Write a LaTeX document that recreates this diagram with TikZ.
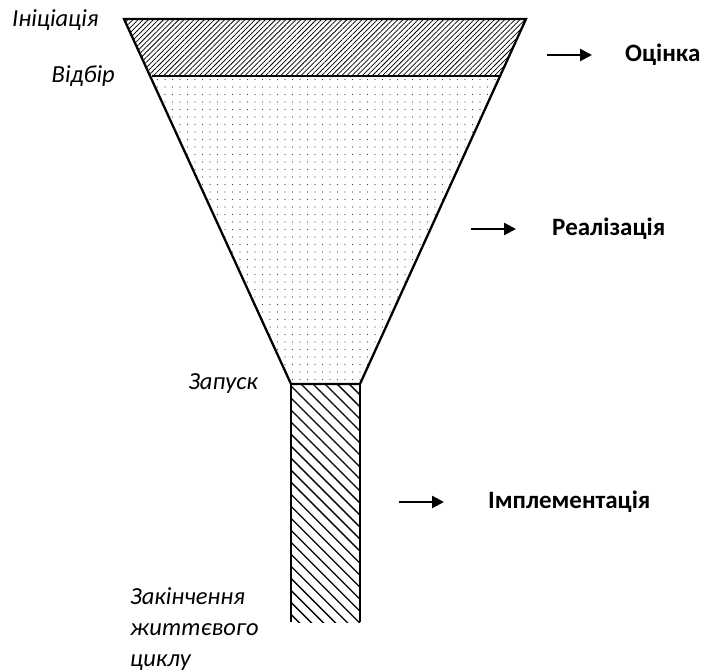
\documentclass[tikz,border=0pt]{standalone}
\usepackage{fontspec}
\setmainfont{Carlito}
\usetikzlibrary{patterns.meta,arrows.meta}
\begin{document}
\begin{tikzpicture}[x=1pt,y=-1pt,
  lbl/.style={font=\fontsize{24.5}{31}\selectfont\itshape, inner sep=0pt},
  stage/.style={font=\fontsize{25}{30}\selectfont\bfseries, anchor=west, inner sep=0pt},
  arr/.style={line width=2.5pt, -{Triangle[length=12pt,width=12pt]}},
  edge/.style={line width=2.3pt, line join=miter}]
\useasboundingbox (0,0) rectangle (702,672);
% key points
\coordinate (TL) at (124,19);
\coordinate (TR) at (526,19);
\coordinate (ML) at (151.5,76);
\coordinate (MR) at (499,76);
\coordinate (BL) at (291,384);
\coordinate (BR) at (360,384);
\coordinate (EL) at (291,622);
\coordinate (ER) at (360,622);
% fills
\fill[pattern={Lines[angle=45,distance=3.6pt,line width=0.75pt]}] (TL) -- (TR) -- (MR) -- (ML) -- cycle;
\fill[pattern={Dots[distance=7.5pt,radius=0.7pt]},pattern color=black!75] (ML) -- (MR) -- (BR) -- (BL) -- cycle;
\fill[pattern={Lines[angle=-45,distance=8.5pt,line width=1.3pt]}] (BL) rectangle (ER);
% outlines
\draw[edge] (BL) -- (TL) -- (TR) -- (BR) -- cycle;
\draw[edge] (ML) -- (MR);
\draw[edge] (EL) -- (BL);
\draw[edge] (ER) -- (BR);
% left labels
\node[lbl, anchor=west] (ini) at (12,20) {Ініціація};
\node[lbl, anchor=east] (vid) at (115,76) {Відбір};
\node[lbl, anchor=east] (zap) at (258,384) {Запуск};
\node[lbl, anchor=west, align=left] (end) at (130,629) {Закінчення\\життєвого\\циклу};
% right labels with arrows
\coordinate (a1s) at (547,55); \coordinate (a1e) at (592,55);
\node[stage] (ots) at (625,55) {Оцінка};
\draw[arr] (a1s) -- (a1e);
\coordinate (a2s) at (471,229); \coordinate (a2e) at (516,229);
\node[stage] (real) at (552,229) {Реалізація};
\draw[arr] (a2s) -- (a2e);
\coordinate (a3s) at (399,502); \coordinate (a3e) at (444,502);
\node[stage] (impl) at (488,502) {Імплементація};
\draw[arr] (a3s) -- (a3e);
\end{tikzpicture}
\end{document}
